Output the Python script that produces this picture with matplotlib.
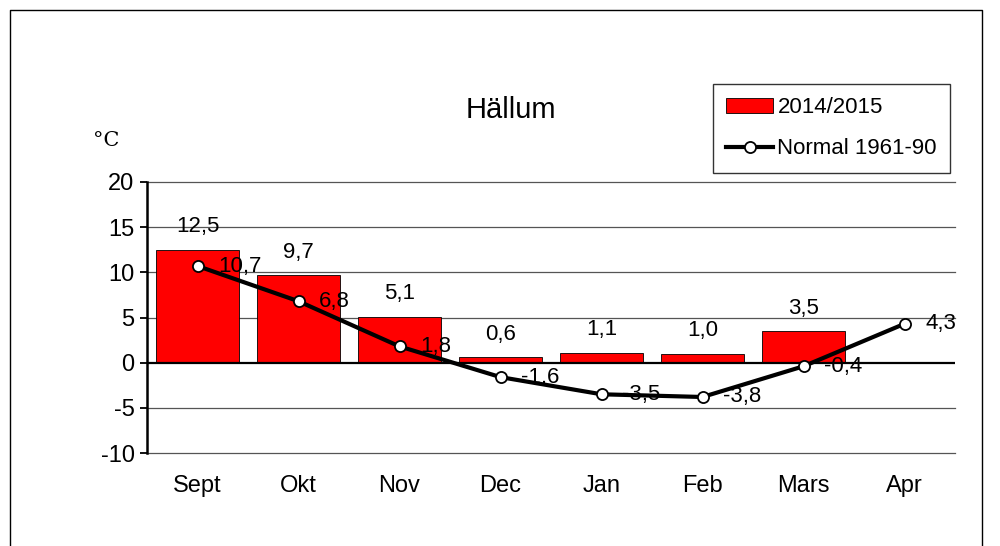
import matplotlib
matplotlib.use("Agg")
import matplotlib.pyplot as plt
import numpy as np

months = ["Sept", "Okt", "Nov", "Dec", "Jan", "Feb", "Mars", "Apr"]
season = [12.5, 9.7, 5.1, 0.6, 1.1, 1.0, 3.5, np.nan]
normal = [10.7, 6.8, 1.8, -1.6, -3.5, -3.8, -0.4, 4.3]
yticks = [-10, -5, 0, 5, 10, 15, 20]

def fmt(v):
    return f"{v:.1f}".replace(".", ",")

plt.rcParams['font.family'] = ['Liberation Sans', 'DejaVu Sans']

fig = plt.figure(figsize=(10, 5.46), dpi=100)
# outer frame (bottom cut off)
fig.add_artist(plt.Line2D([0.010, 0.010, 0.982, 0.982], [0.0, 0.982, 0.982, 0.0],
                          transform=fig.transFigure, color='black', lw=1.0))

ax = fig.add_axes([0.147, 1 - 453/546, 0.808, (453 - 182)/546])
x = np.arange(len(months))
ax.set_xlim(-0.5, len(months) - 0.5)
ax.set_ylim(-10, 20)

for yv in yticks:
    if yv == 0:
        continue
    ax.axhline(yv, color='#555555', lw=0.9, zorder=0, clip_on=False)
ax.axhline(0, color='black', lw=1.6, zorder=3)

bars = ax.bar(x, season, width=0.82, color='#ff0000', edgecolor='black', lw=0.6,
              zorder=2, label='2014/2015')
line, = ax.plot(x, normal, color='black', lw=3, marker='o', markersize=8,
                markerfacecolor='white', markeredgecolor='black', markeredgewidth=1.3,
                zorder=4, label='Normal 1961-90')

for xi, v in zip(x, season):
    if not np.isnan(v):
        ax.annotate(fmt(v), (xi, v), xytext=(0, 9), textcoords='offset points',
                    ha='center', va='bottom', fontsize=16, zorder=5)
for xi, v in zip(x, normal):
    ax.annotate(fmt(v), (xi, v), xytext=(15, 0), textcoords='offset points',
                ha='left', va='center', fontsize=16, zorder=5)

ax.set_yticks(yticks)
ax.set_yticklabels([str(t) for t in yticks], fontsize=17)
ax.set_xticks(x)
ax.set_xticklabels(months, fontsize=17)
ax.tick_params(axis='x', length=0, pad=16)
ax.tick_params(axis='y', length=5, width=1.3, direction='out', pad=4)
for s in ['top', 'right', 'bottom']:
    ax.spines[s].set_visible(False)
ax.spines['left'].set_linewidth(1.8)

fig.text(0.511, 1 - 110/546, "Hällum", ha='center', va='center', fontsize=21)
fig.text(0.093, 1 - 140/546, "°C", ha='left', va='center', fontsize=15,
         family=['DejaVu Serif'])

leg = fig.legend(handles=[bars, line], labels=['2014/2015', 'Normal 1961-90'],
                 loc='upper left', bbox_to_anchor=(713/1000, 1 - 84/546),
                 bbox_transform=fig.transFigure, frameon=True, fancybox=False,
                 edgecolor='black', fontsize=16, handlelength=2.1, handletextpad=0.2,
                 labelspacing=0.9, borderpad=0.6, borderaxespad=0)
leg.get_frame().set_linewidth(1.0)

fig.savefig("out.png", dpi=100)
